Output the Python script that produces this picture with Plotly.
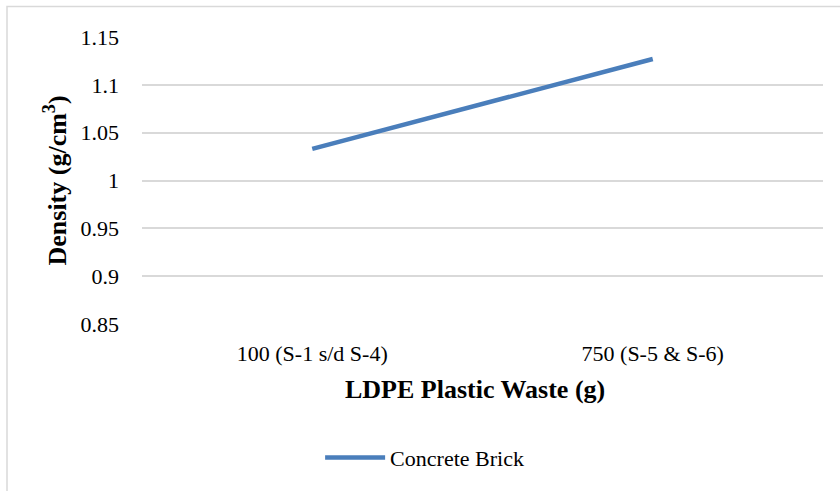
import plotly.graph_objects as go

# Density of concrete bricks for two LDPE plastic waste dosages
categories = ["100 (S-1 s/d S-4)", "750 (S-5 & S-6)"]
density = [1.033, 1.127]
series_name = "Concrete Brick"
y_ticks = [0.85, 0.9, 0.95, 1.0, 1.05, 1.1, 1.15]
y_tick_text = ["0.85", "0.9", "0.95", "1", "1.05", "1.1", "1.15"]

FONT = "Liberation Serif"
GRID = "#d9d9d9"
BLUE = "#4a7ebb"

fig = go.Figure()
fig.add_trace(go.Scatter(
    x=categories, y=density, mode="lines", name=series_name,
    line=dict(color=BLUE, width=4.5),
))

fig.update_layout(
    width=840, height=491,
    margin=dict(l=142, r=17, t=37, b=167),
    paper_bgcolor="white", plot_bgcolor="white",
    font=dict(family=FONT, size=22, color="#000000"),
    showlegend=True,
    legend=dict(orientation="h", x=0.415, y=-0.466, xanchor="center", yanchor="middle",
                font=dict(family=FONT, size=22, color="#000000"),
                itemwidth=60, bgcolor="rgba(0,0,0,0)"),
    xaxis=dict(type="category", range=[-0.5, 1.5], showgrid=False, zeroline=False,
               showline=False, ticks="", ticklabelstandoff=14,
               tickfont=dict(family=FONT, size=22, color="#000000")),
    yaxis=dict(range=[0.85, 1.15], tickvals=y_ticks, ticktext=y_tick_text,
               showgrid=True, gridcolor=GRID, gridwidth=1.5, zeroline=False,
               showline=False, ticks="", ticklabelstandoff=22,
               tickfont=dict(family=FONT, size=22, color="#000000")),
    shapes=[dict(type="rect", xref="paper", yref="paper",
                 x0=-135 / 681, x1=1.1, y0=-1.0, y1=1 + 30.5 / 287,
                 line=dict(color=GRID, width=1.5), fillcolor="rgba(0,0,0,0)", layer="below")],
    annotations=[
        dict(text="<b>LDPE Plastic Waste (g)</b>", xref="paper", yref="paper",
             x=(475 - 142) / 681, y=(324.3 - 390) / 287, xanchor="center", yanchor="middle",
             showarrow=False, font=dict(family=FONT, size=26)),
        dict(text="<b>Density (g/cm<sup>3</sup>)</b>", xref="paper", yref="paper",
             x=(56 - 142) / 681, y=0.5, xanchor="center", yanchor="middle", textangle=-90,
             showarrow=False, font=dict(family=FONT, size=26)),
    ],
)

fig.write_html("out.html")
